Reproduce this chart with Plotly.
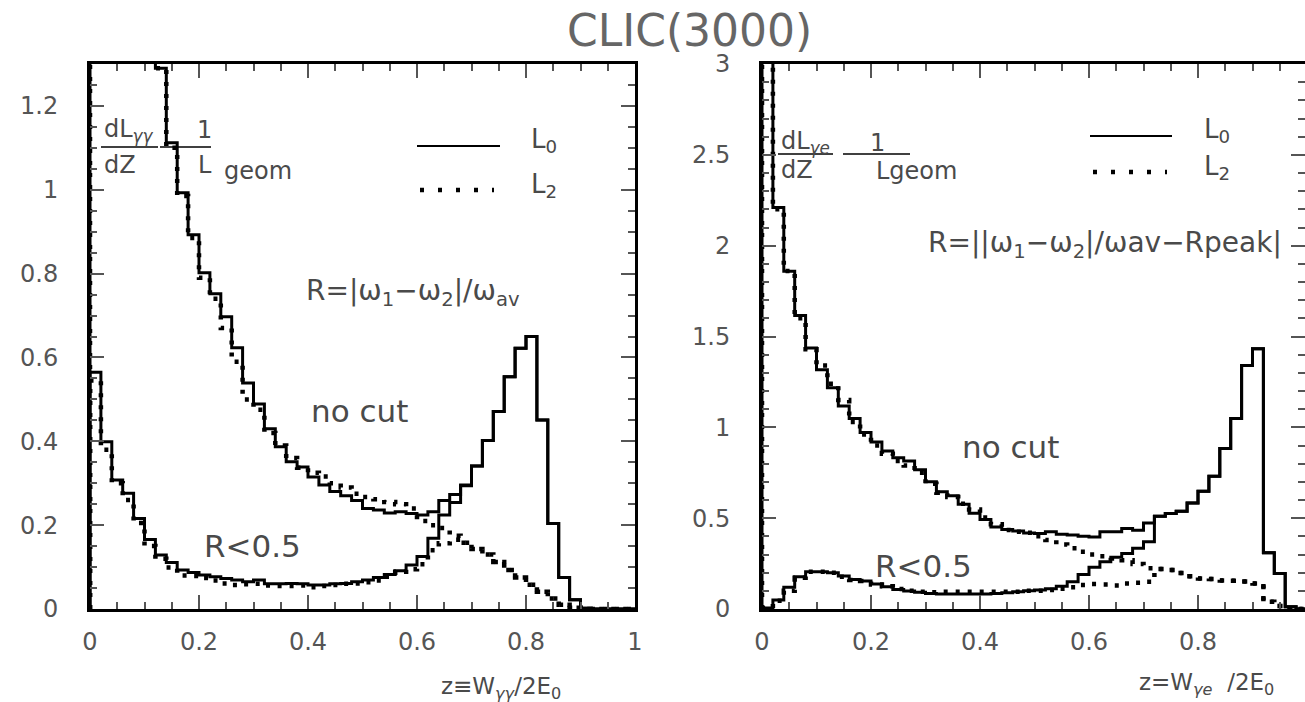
import numpy as np
import plotly.graph_objects as go

W, H = 1305, 702

# bins of z = W/2E0, width 0.02
z_edges = np.round(np.linspace(0, 1, 51), 2)

# gamma-gamma, dL/dz / L_geom (first bins run off the top of the frame)
gg_L0_all = [3.6, 2.3, 1.85, 1.6, 1.45, 1.35, 1.29, 1.112, 0.993, 0.893,
             0.802, 0.752, 0.697, 0.623, 0.539, 0.489, 0.430, 0.387, 0.351, 0.339,
             0.315, 0.296, 0.280, 0.270, 0.259, 0.240, 0.236, 0.229, 0.232, 0.228,
             0.224, 0.232, 0.259, 0.273, 0.296, 0.341, 0.402, 0.471, 0.554, 0.622,
             0.650, 0.451, 0.204, 0.075, 0.022, 0.002, 0.0, 0.0, 0.0, 0.0]
gg_L0_cut = [0.565, 0.399, 0.308, 0.276, 0.216, 0.166, 0.129, 0.111, 0.093, 0.087,
             0.081, 0.077, 0.073, 0.069, 0.065, 0.069, 0.060, 0.060, 0.061, 0.060,
             0.057, 0.057, 0.060, 0.061, 0.065, 0.069, 0.075, 0.082, 0.091, 0.105,
             0.125, 0.169, 0.224, 0.254, 0.294, 0.341, 0.402, 0.471, 0.554, 0.622,
             0.650, 0.451, 0.204, 0.075, 0.022, 0.002, 0.0, 0.0, 0.0, 0.0]
gg_L2_all = [3.4, 2.2, 1.8, 1.58, 1.44, 1.34, 1.29, 1.10, 0.985, 0.885,
             0.79, 0.74, 0.67, 0.59, 0.50, 0.475, 0.42, 0.39, 0.36, 0.337,
             0.325, 0.316, 0.30, 0.29, 0.275, 0.267, 0.262, 0.255, 0.250, 0.240,
             0.210, 0.200, 0.193, 0.175, 0.158, 0.143, 0.130, 0.112, 0.093, 0.075,
             0.058, 0.041, 0.025, 0.010, 0.003, 0.0, 0.0, 0.0, 0.0, 0.0]
gg_L2_cut = [0.545, 0.38, 0.30, 0.26, 0.205, 0.15, 0.12, 0.099, 0.08, 0.079,
             0.074, 0.068, 0.061, 0.057, 0.059, 0.060, 0.056, 0.055, 0.055, 0.056,
             0.052, 0.055, 0.057, 0.060, 0.061, 0.064, 0.068, 0.077, 0.089, 0.095,
             0.107, 0.14, 0.157, 0.165, 0.158, 0.143, 0.130, 0.112, 0.093, 0.075,
             0.058, 0.041, 0.025, 0.010, 0.003, 0.0, 0.0, 0.0, 0.0, 0.0]

# gamma-electron
ge_L0_all = [4.5, 2.21, 1.859, 1.615, 1.437, 1.317, 1.218, 1.118, 1.048, 0.972,
             0.919, 0.87, 0.833, 0.815, 0.767, 0.70, 0.645, 0.624, 0.577, 0.527,
             0.493, 0.452, 0.438, 0.43, 0.419, 0.416, 0.425, 0.412, 0.407, 0.401,
             0.397, 0.425, 0.425, 0.443, 0.434, 0.474, 0.511, 0.526, 0.538, 0.584,
             0.648, 0.731, 0.883, 1.048, 1.341, 1.432, 0.31, 0.196, 0.013, 0.0]
ge_L0_cut = [0.005, 0.049, 0.12, 0.178, 0.205, 0.205, 0.20, 0.181, 0.163, 0.154,
             0.137, 0.123, 0.108, 0.099, 0.092, 0.086, 0.083, 0.082, 0.082, 0.082,
             0.083, 0.085, 0.09, 0.095, 0.10, 0.105, 0.112, 0.125, 0.15, 0.19,
             0.23, 0.26, 0.285, 0.305, 0.335, 0.37, 0.511, 0.526, 0.538, 0.584,
             0.648, 0.731, 0.883, 1.048, 1.341, 1.432, 0.31, 0.196, 0.013, 0.0]
ge_L2_all = [4.3, 2.2, 1.86, 1.6, 1.43, 1.34, 1.24, 1.15, 1.03, 0.96,
             0.90, 0.855, 0.815, 0.79, 0.75, 0.69, 0.64, 0.617, 0.58, 0.548,
             0.504, 0.467, 0.435, 0.425, 0.42, 0.40, 0.38, 0.355, 0.335, 0.315,
             0.30, 0.29, 0.278, 0.268, 0.248, 0.225, 0.22, 0.215, 0.198, 0.18,
             0.168, 0.165, 0.157, 0.156, 0.152, 0.14, 0.04, 0.016, 0.004, 0.0]
ge_L2_cut = [0.005, 0.046, 0.10, 0.172, 0.205, 0.205, 0.20, 0.178, 0.16, 0.154,
             0.135, 0.125, 0.11, 0.10, 0.095, 0.092, 0.095, 0.095, 0.095, 0.095,
             0.095, 0.095, 0.095, 0.095, 0.10, 0.10, 0.104, 0.112, 0.12, 0.132,
             0.137, 0.135, 0.13, 0.14, 0.145, 0.15, 0.22, 0.215, 0.198, 0.18,
             0.168, 0.165, 0.157, 0.156, 0.152, 0.14, 0.04, 0.016, 0.004, 0.0]

x_ticks = [0, 0.2, 0.4, 0.6, 0.8, 1]
x_labels = ["0", "0.2", "0.4", "0.6", "0.8", "1"]
gg_yticks = [0, 0.2, 0.4, 0.6, 0.8, 1, 1.2]
gg_ylabels = ["0", "0.2", "0.4", "0.6", "0.8", "1", "1.2"]
ge_yticks = [0, 0.5, 1, 1.5, 2, 2.5, 3]
ge_ylabels = ["0", "0.5", "1", "1.5", "2", "2.5", "3"]

FONT = "DejaVu Sans, Arial, sans-serif"
TXT = "#4a4a4a"


def P(x, y):
    # pixel position -> paper coordinates
    return x / W, 1 - y / H


def step_xy(vals):
    x = [0.0] + list(z_edges[:-1]) + [1.0]
    y = [0.0] + list(vals) + [0.0]
    return x, y


fig = go.Figure()

solid = dict(shape="hv", color="black", width=3)
dotted = dict(shape="hv", color="black", width=4.5, dash="4px,8px")

for vals, ax, style in [
    (gg_L0_all, "1", solid), (gg_L0_cut, "1", solid),
    (ge_L0_all, "2", solid), (ge_L0_cut, "2", solid),
    (gg_L2_all, "1", dotted), (gg_L2_cut, "1", dotted),
    (ge_L2_all, "2", dotted), (ge_L2_cut, "2", dotted),
]:
    x, y = step_xy(vals)
    fig.add_trace(go.Scatter(
        x=x, y=y, mode="lines", line=style,
        xaxis="x" if ax == "1" else "x2", yaxis="y" if ax == "1" else "y2",
        showlegend=False, hoverinfo="skip"))

ydom = [1 - 609 / H, 1 - 64 / H]
minor_x = dict(dtick=0.05, ticklen=7, ticks="inside", tickcolor="#555", tickwidth=1.5)
common = dict(showline=True, linewidth=3, linecolor="black", mirror="allticks",
              ticks="inside", ticklen=14, tickwidth=1.5, tickcolor="#555",
              showgrid=False, zeroline=False,
              tickfont=dict(family=FONT, size=24, color="#555"))

fig.update_layout(
    width=W, height=H,
    margin=dict(l=0, r=0, t=0, b=0),
    paper_bgcolor="white", plot_bgcolor="white",
    template="none",
    xaxis=dict(domain=[90 / W, 635 / W], range=[0, 1], anchor="y",
               tickvals=x_ticks, ticktext=x_labels, ticklabelstandoff=9,
               minor=minor_x, **common),
    yaxis=dict(domain=ydom, range=[0, 1.3], anchor="x",
               tickvals=gg_yticks, ticktext=gg_ylabels, ticklabelstandoff=24,
               minor=dict(minor_x, dtick=0.05), **common),
    xaxis2=dict(domain=[762 / W, 1.0], range=[0, 543 / 545], anchor="y2",
                tickvals=x_ticks, ticktext=x_labels, ticklabelstandoff=9,
                minor=minor_x, **common),
    yaxis2=dict(domain=ydom, range=[0, 3], anchor="x2",
                tickvals=ge_yticks, ticktext=ge_ylabels, ticklabelstandoff=24,
                minor=dict(minor_x, dtick=0.1), **common),
)

annots = []


def text(x, y, s, size, anchor="center", color=TXT):
    px_, py_ = P(x, y)
    annots.append(dict(x=px_, y=py_, xref="paper", yref="paper", text=s,
                       showarrow=False, xanchor=anchor, yanchor="middle",
                       font=dict(family=FONT, size=size, color=color)))


shapes = []


def hline(x0, x1, y, width=1.5, dash=None):
    a0, b0 = P(x0, y)
    a1, _ = P(x1, y)
    ln = dict(color="black", width=width)
    if dash:
        ln["dash"] = dash
    shapes.append(dict(type="line", xref="paper", yref="paper",
                       x0=a0, x1=a1, y0=b0, y1=b0, line=ln))


text(689, 31, "CLIC(3000)", 44, color="#666")

# left panel
text(102, 131, "dL<sub><i>γγ</i></sub>", 24, "left")
hline(101, 158, 147)
text(102, 165, "dZ", 24, "left")
text(204, 130, "1", 24)
hline(160, 211, 147)
text(196, 165, "L", 24, "left")
text(222, 171, "geom", 24, "left")
hline(417, 500, 146, 2)
text(529, 141, "L<sub>0</sub>", 26, "left")
hline(420, 494, 190, 4.5, "4px,14px")
text(529, 185, "L<sub>2</sub>", 26, "left")
text(304, 293, "R=|ω<sub>1</sub>−ω<sub>2</sub>|/ω<sub>av</sub>", 28, "left")
text(359, 411, "no cut", 31)
text(252, 546, "R&lt;0.5", 31)
text(501, 688, "z≡W<sub><i>γγ</i></sub>/2E<sub>0</sub>", 23)

# right panel
text(779, 142, "dL<sub><i>γe</i></sub>", 24, "left")
hline(778, 833, 154)
text(779, 170, "dZ", 24, "left")
text(877, 143, "1", 24)
hline(843, 910, 154)
text(874, 171, "Lgeom", 24, "left")
hline(1090, 1172, 136, 2)
text(1202, 131, "L<sub>0</sub>", 26, "left")
hline(1093, 1167, 172, 4.5, "4px,14px")
text(1202, 167, "L<sub>2</sub>", 26, "left")
text(926, 244, "R=||ω<sub>1</sub>−ω<sub>2</sub>|/ωav−Rpeak|", 28, "left")
text(1010, 447, "no cut", 31)
text(923, 566, "R&lt;0.5", 31)
text(1206, 684, "z=W<sub><i>γe</i></sub>  /2E<sub>0</sub>", 23)

fig.update_layout(annotations=annots, shapes=shapes)

# drop the default page margin so the figure sits at the window's corner
fig.write_html("out.html", config={"displayModeBar": False},
               post_script="document.body.style.margin='0';")
